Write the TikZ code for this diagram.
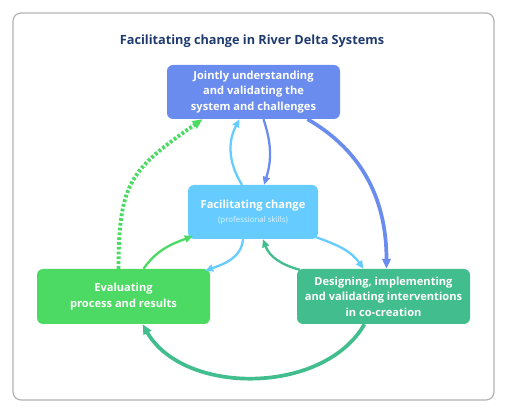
\documentclass[tikz,border=0pt]{standalone}
\usepackage{fontspec}
\setmainfont{Open Sans}
\usetikzlibrary{arrows.meta}
\definecolor{deltanavy}{RGB}{31,59,110}
\definecolor{deltablue}{RGB}{106,140,238}
\definecolor{deltasky}{RGB}{102,204,255}
\definecolor{deltagreen}{RGB}{76,217,100}
\definecolor{deltateal}{RGB}{66,189,141}
\tikzset{
  box/.style= {rounded corners=6pt, text=white, align=center, inner sep=0pt,
    minimum width=173pt, minimum height=55pt,
    font=\fontsize{11.1}{15.5}\selectfont\bfseries},
  hub/.style= {box, minimum width=130pt, minimum height=54pt},
  link/.style= {line width=2.3pt, -{Triangle[length=8pt,width=7pt]}},
  biglink/.style= {line width=3.7pt, -{Triangle[length=10pt,width=8.5pt]}},
}

\begin{document}
\begin{tikzpicture}[x=1pt, y=1pt]
  \useasboundingbox (0,0) rectangle (507,-414);
  \draw [rounded corners=8pt, black!30, line width=1.2pt] (13,-13) rectangle (494,-400);
  \node [text=deltanavy, font=\fontsize{12.7}{15}\selectfont\bfseries] (title) at (252,-41)
    {Facilitating change in River Delta Systems};

  \node [box, fill=deltablue, minimum height=54pt] (understand) at (253.5,-92)
    {Jointly understanding\\and validating the\\system and challenges};
  \node [hub, fill=deltasky] (facilitate) at (253,-212)
    {Facilitating change\\[-1pt]{\fontsize{7.9}{9}\selectfont\mdseries\color{white!78!deltasky}(professional skills)}};
  \node [box, fill=deltagreen] (evaluate) at (123.5,-296.5)
    {Evaluating\\process and results};
  \node [box, fill=deltateal] (design) at (383.5,-296.5)
    {Designing, implementing\\and validating interventions\\in co-creation};

  % inner loop round the hub
  \draw [link, deltasky] ([xshift=-11pt]facilitate.north) to [bend left=30] ([xshift=-14pt]understand.south);
  \draw [link, deltablue] ([xshift=10pt]understand.south) to [bend left=18] ([xshift=11pt]facilitate.north);
  \draw [link, deltagreen] ([xshift=20pt]evaluate.north) to [out=55, in=200] ([shift={(5pt,3pt)}]facilitate.south west);
  \draw [link, deltasky] ([xshift=-10pt]facilitate.south) to [out=-95, in=20] ([shift={(-5pt,-2pt)}]evaluate.north east);
  \draw [link, deltasky] ([shift={(-2pt,2pt)}]facilitate.south east) to [out=-20, in=125] ([xshift=-20pt]design.north);
  \draw [link, deltateal] ([shift={(3pt,-1pt)}]design.north west) to [out=165, in=-70] ([xshift=10pt]facilitate.south);

  % outer cycle
  \draw [biglink, deltablue] ([xshift=54pt]understand.south) to [out=-30, in=90] ([xshift=3pt]design.north);
  \draw [biglink, deltateal] ([xshift=-19pt]design.south) to [out=-120, in=-60, looseness=0.95] ([xshift=19pt]evaluate.south);
  \draw [biglink, deltagreen, line width=3.9pt, dash pattern=on 2.8pt off 2pt]
    ([xshift=-5pt]evaluate.north) to [out=90, in=215, looseness=1.3] ([xshift=-51pt]understand.south);
\end{tikzpicture}
\end{document}
